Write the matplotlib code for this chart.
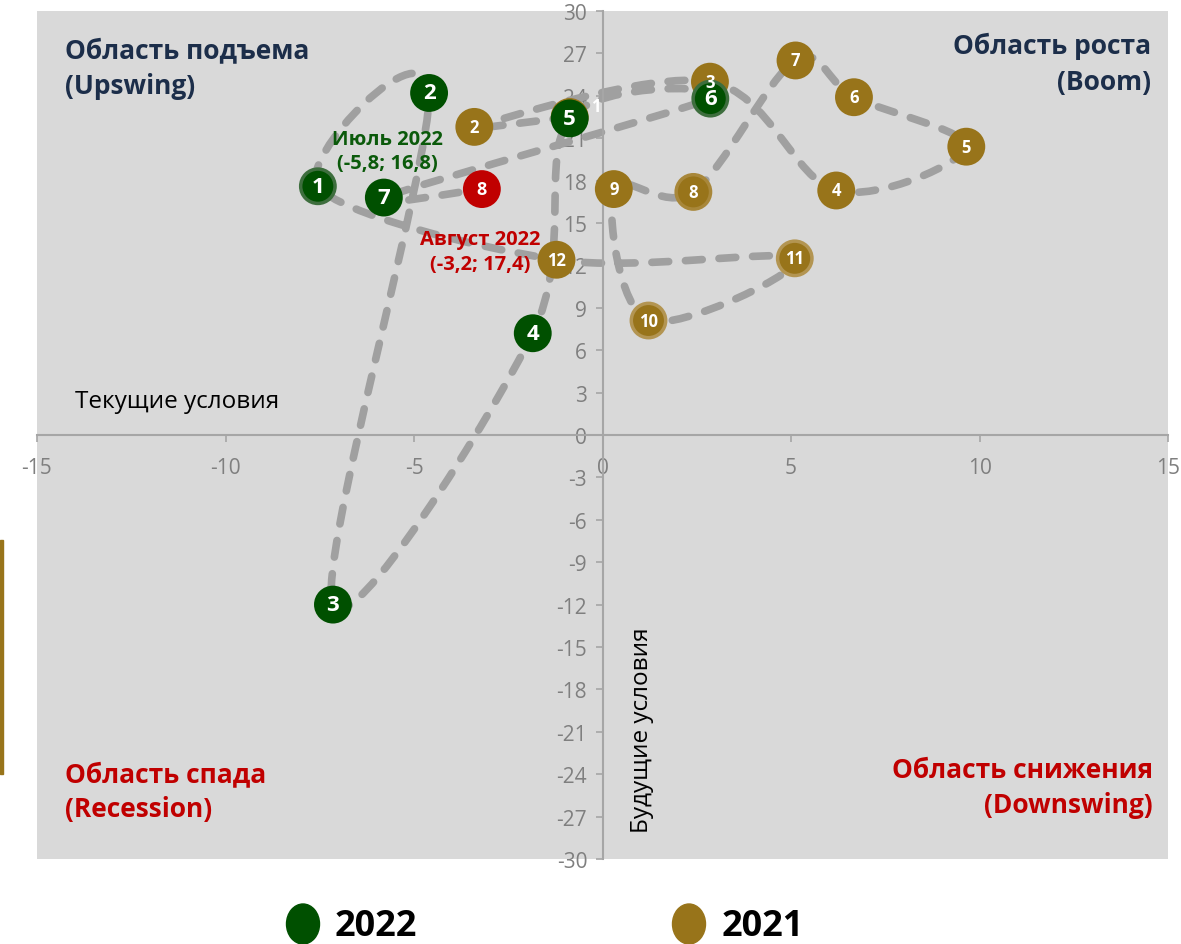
import matplotlib
matplotlib.use('Agg')
import matplotlib.pyplot as plt
from matplotlib.path import Path
from matplotlib.patches import PathPatch, Ellipse, Rectangle

plt.rcParams['font.family'] = ['Open Sans', 'DejaVu Sans']
plt.rcParams['axes.unicode_minus'] = False

# 2021: months 1..12 (current conditions, future conditions)
x_2021 = [-0.87, -3.4, 2.85, 6.2, 9.65, 6.67, 5.12, 2.41, 0.3, 1.22, 5.1, -1.22]
y_2021 = [22.5, 21.8, 25.0, 17.3, 20.4, 23.9, 26.5, 17.2, 17.4, 8.1, 12.5, 12.4]
# 2022: months 1..8
x_2022 = [-7.55, -4.6, -7.15, -1.85, -0.87, 2.86, -5.8, -3.2]
y_2022 = [17.6, 24.2, -12.0, 7.2, 22.4, 23.8, 16.8, 17.4]

GREEN = '#005000'
GOLD = '#98741A'
RED = '#C00000'
NAVY = '#1C2E4A'


def smooth_path(xs, ys):
    # Excel-like smoothed line: Catmull-Rom converted to cubic Bezier
    pts = list(zip(xs, ys))
    n = len(pts)
    verts = [pts[0]]
    codes = [Path.MOVETO]
    for i in range(n - 1):
        p0 = pts[max(i - 1, 0)]
        p1 = pts[i]
        p2 = pts[i + 1]
        p3 = pts[min(i + 2, n - 1)]
        c1 = (p1[0] + (p2[0] - p0[0]) / 6, p1[1] + (p2[1] - p0[1]) / 6)
        c2 = (p2[0] - (p3[0] - p1[0]) / 6, p2[1] - (p3[1] - p1[1]) / 6)
        verts += [c1, c2, p2]
        codes += [Path.CURVE4] * 3
    return Path(verts, codes)


fig = plt.figure(figsize=(11.81, 9.45), dpi=100)
ax = fig.add_axes([37 / 1181, 85 / 945, 1131 / 1181, 848 / 945])
ax.set_xlim(-15, 15)
ax.set_ylim(-30, 30)
ax.set_facecolor('#D9D9D9')

for s in ['top', 'right']:
    ax.spines[s].set_visible(False)
for s in ['left', 'bottom']:
    ax.spines[s].set_position(('data', 0))
    ax.spines[s].set_color('#A6A6A6')
    ax.spines[s].set_linewidth(1.5)

ax.set_xticks(range(-15, 16, 5))
ax.set_yticks(range(-30, 31, 3))
ax.tick_params(axis='x', direction='out', length=5, width=1.2, color='#A6A6A6',
               labelcolor='#7F7F7F', labelsize=15, pad=11)
ax.tick_params(axis='y', direction='out', length=5, width=1.2, color='#A6A6A6',
               labelcolor='#7F7F7F', labelsize=15, pad=6)

# dashed smoothed trajectory 2021 -> 2022
all_x = x_2021 + x_2022
all_y = y_2021 + y_2022
patch = PathPatch(smooth_path(all_x, all_y), fill=False, edgecolor='#A0A0A0',
                  linewidth=5.5, linestyle=(0, (2.2, 2.2)), capstyle='round', zorder=2)
ax.add_patch(patch)

# 2021 markers
edge_2021 = [GOLD] * 12
edge_2021[7] = '#A8873A'
edge_2021[9] = '#B39552'
edge_2021[10] = '#B39552'
ax.scatter(x_2021, y_2021, s=34 ** 2 * 0.53, c=GOLD, edgecolors=edge_2021,
           linewidths=2.5, zorder=3)
for i, (x, y) in enumerate(zip(x_2021, y_2021)):
    if i == 0:
        ax.annotate('1', (x, y), xytext=(19, 8), textcoords='offset points',
                    ha='center', va='center', color='white', fontsize=12,
                    fontweight='bold', zorder=5)
        continue
    ax.text(x, y, str(i + 1), ha='center', va='center', color='white',
            fontsize=12, fontweight='bold', zorder=5)

# 2022 markers
col_2022 = [GREEN] * 7 + [RED]
edge_2022 = list(col_2022)
edge_2022[0] = '#3E6E3E'
edge_2022[5] = '#3E6E3E'
ax.scatter(x_2022, y_2022, s=34 ** 2 * 0.53, c=col_2022, edgecolors=edge_2022,
           linewidths=2.5, zorder=4)
for i, (x, y) in enumerate(zip(x_2022, y_2022)):
    fs = 13 if i == 7 else 16
    ax.text(x, y, str(i + 1), ha='center', va='center', color='white',
            fontsize=fs, fontweight='bold', zorder=6)

# point callouts
ax.text(-5.7, 20.1, 'Июль 2022\n(-5,8; 16,8)', ha='center', va='center',
        color='#0B5A0B', fontsize=14.5, fontweight='bold', linespacing=1.3, zorder=6)
ax.text(-3.24, 13.0, 'Август 2022\n(-3,2; 17,4)', ha='center', va='center',
        color=RED, fontsize=14.5, fontweight='bold', linespacing=1.3, zorder=6)

# quadrant titles
ax.text(-14.25, 28.2, 'Область подъема\n(Upswing)', ha='left', va='top',
        color=NAVY, fontsize=19, fontweight='bold', linespacing=1.4)
ax.text(14.55, 28.5, 'Область роста\n(Boom)', ha='right', va='top',
        multialignment='right', color=NAVY, fontsize=19, fontweight='bold',
        linespacing=1.4)
ax.text(-14.25, -23.0, 'Область спада\n(Recession)', ha='left', va='top',
        color=RED, fontsize=19, fontweight='bold', linespacing=1.4)
ax.text(14.6, -22.7, 'Область снижения\n(Downswing)', ha='right', va='top',
        multialignment='right', color=RED, fontsize=19, fontweight='bold',
        linespacing=1.4)

# axis titles
ax.text(-14.0, 2.4, 'Текущие условия', ha='left', va='center',
        color='black', fontsize=17.5)
ax.text(1.06, -20.85, 'Будущие условия', ha='center', va='center',
        rotation=90, color='black', fontsize=17.5)

# legend below chart
fig.add_artist(Ellipse((303 / 1181, 1 - 925 / 945), 33 / 1181, 40 / 945,
                       transform=fig.transFigure, color=GREEN))
fig.text(335 / 1181, 1 - 927 / 945, '2022', ha='left', va='center',
         fontsize=26, fontweight='bold', color='black')
fig.add_artist(Ellipse((689 / 1181, 1 - 925 / 945), 33 / 1181, 40 / 945,
                       transform=fig.transFigure, color=GOLD))
fig.text(722 / 1181, 1 - 927 / 945, '2021', ha='left', va='center',
         fontsize=26, fontweight='bold', color='black')

# thin gold bar on the left edge
fig.add_artist(Rectangle((0, 1 - 775 / 945), 3 / 1181, 234 / 945,
                         transform=fig.transFigure, color=GOLD))

fig.savefig('out.png', dpi=100)
